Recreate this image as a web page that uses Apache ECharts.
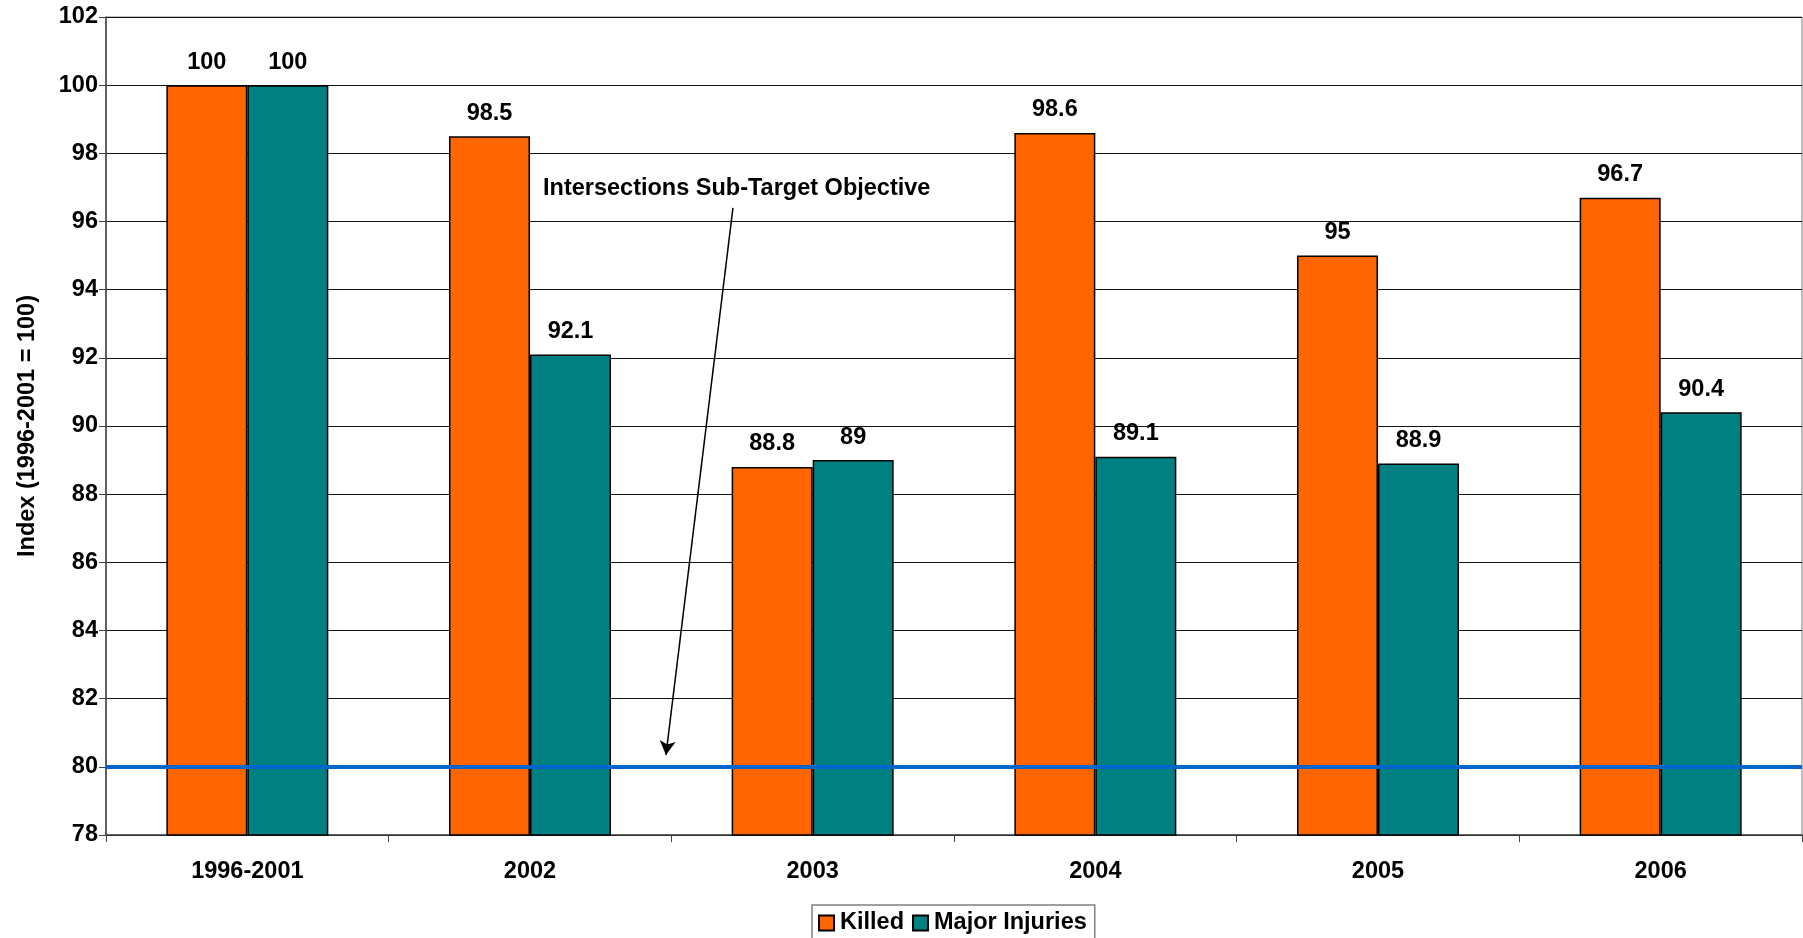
<!DOCTYPE html>
<html><head><meta charset="utf-8">
<script src="https://cdn.jsdelivr.net/npm/echarts@6/dist/echarts.min.js"></script>
<style>html,body{margin:0;padding:0;background:#fff}#c{width:1803px;height:938px}</style>
</head><body><div id="c"></div>
<script>
const categories = ['1996-2001','2002','2003','2004','2005','2006'];
const killed = [100, 98.5, 88.8, 98.6, 95, 96.7];
const majorInjuries = [100, 92.1, 89, 89.1, 88.9, 90.4];
const targetValue = 80;
const annotationText = 'Intersections Sub-Target Objective';
const yTicks = {min: 78, max: 102, interval: 2};

const FONT = '"Liberation Sans", Arial, sans-serif';
const FS = 23.5;
const chart = echarts.init(document.getElementById('c'));
chart.setOption({
  animation: false,
  textStyle: {fontFamily: FONT},
  grid: {left: 106, top: 17, right: 1, bottom: 103, show: true, borderColor: '#808080', borderWidth: 1},
  legend: {
    data: ['Killed', 'Major Injuries'],
    left: 812, top: 905,
    padding: [6, 8, 6, 6],
    borderColor: '#808080', borderWidth: 1.5,
    itemWidth: 15, itemHeight: 15, itemGap: 8,
    icon: 'rect',
    textStyle: {fontFamily: FONT, fontWeight: 'bold', fontSize: FS, color: '#000', padding: [0,0,0,1]}
  },
  xAxis: [{
    type: 'category', data: categories,
    axisLine: {lineStyle: {color: '#404040', width: 1.5}},
    axisTick: {show: true, length: 7, lineStyle: {color: '#404040'}},
    axisLabel: {fontFamily: FONT, fontWeight: 'bold', fontSize: FS, color: '#000', margin: 25}
  }, {
    type: 'value', min: 0, max: 6, show: false
  }],
  yAxis: {
    type: 'value', min: yTicks.min, max: yTicks.max, interval: yTicks.interval,
    name: 'Index (1996-2001 = 100)', nameLocation: 'middle', nameGap: 66, nameRotate: 90,
    nameTextStyle: {fontFamily: FONT, fontWeight: 'bold', fontSize: FS, color: '#000'},
    axisLine: {show: true, lineStyle: {color: '#404040', width: 1.5}},
    axisTick: {show: true, length: 7, lineStyle: {color: '#404040'}},
    axisLabel: {fontFamily: FONT, fontWeight: 'bold', fontSize: FS, color: '#000', margin: 8},
    splitLine: {lineStyle: {color: '#111', width: 1}}
  },
  series: [{
    name: 'Killed', type: 'bar', data: killed, barWidth: 81, barGap: '0%',
    itemStyle: {color: '#FF6600', borderColor: '#000', borderWidth: 1.5},
    label: {show: true, position: 'top', distance: 11, fontFamily: FONT, fontWeight: 'bold', fontSize: FS, color: '#000'},
    markLine: {
      silent: true, symbol: 'none',
      lineStyle: {color: '#0066CC', width: 4, type: 'solid'},
      label: {show: false},
      data: [{yAxis: targetValue}]
    },
    z: 2
  }, {
    name: 'Major Injuries', type: 'bar', data: majorInjuries, barWidth: 81,
    itemStyle: {color: '#008080', borderColor: '#000', borderWidth: 1.5},
    label: {show: true, position: 'top', distance: 11, fontFamily: FONT, fontWeight: 'bold', fontSize: FS, color: '#000'},
    z: 2
  }, {
    name: 'annotation', type: 'scatter', xAxisIndex: 1,
    data: [[1.546, 96.98]], symbolSize: 0, silent: true,
    itemStyle: {opacity: 1},
    label: {show: true, position: 'right', distance: 0, formatter: annotationText,
            fontFamily: FONT, fontWeight: 'bold', fontSize: FS, color: '#000', opacity: 1},
    markLine: {
      silent: true, symbol: ['none', 'arrow'], symbolSize: [12, 14],
      lineStyle: {color: '#000', width: 1.5, type: 'solid', opacity: 1},
      label: {show: false},
      data: [[{coord: [2.218, 96.4]}, {coord: [1.981, 80.35]}]]
    },
    z: 5
  }]
});
</script></body></html>
